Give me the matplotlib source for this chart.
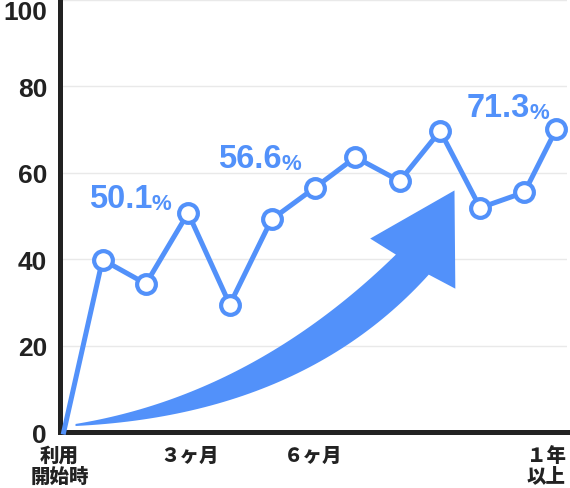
import matplotlib.pyplot as plt
from matplotlib.patches import Polygon
import numpy as np

# データ
months = [0, 0.92, 1.95, 2.95, 3.94, 4.93, 5.95, 6.92, 7.97, 8.93, 9.88, 10.93, 11.69]
values = [0, 39.9, 34.3, 50.7, 29.5, 49.2, 56.5, 63.6, 58.1, 69.7, 51.9, 55.5, 70.2]
tick_labels = ['利用\n開始時', '３ヶ月', '６ヶ月', '１年\n以上']
tick_pos = [-0.1, 2.98, 5.92, 11.45]
y_ticks = [0, 20, 40, 60, 80, 100]
callout_text = ['50.1', '56.6', '71.3']
callout_pos = [(0.59, 52.2), (3.65, 61.3), (9.55, 73.1)]

blue = '#5291fa'
dark = '#222222'


def bezier(p0, c, p2, n=60):
    t = np.linspace(0, 1, n)[:, None]
    return (1 - t) ** 2 * np.array(p0) + 2 * (1 - t) * t * np.array(c) + t ** 2 * np.array(p2)


def main():
    fig = plt.figure(figsize=(5.7, 4.89), dpi=100)
    ax = fig.add_axes([0.1044, 0.1145, 0.8904, 0.8834])
    ax.set_xlim(0, 11.94)
    ax.set_ylim(0, 100)

    # グリッド
    for y in y_ticks[1:]:
        ax.axhline(y, color='#e9e9e9', lw=1, zorder=0)

    # 矢印 (装飾)
    upper = bezier((0.28, 1.86), (4.47, 8.58), (7.88, 41.07))
    lower = bezier((0.28, 1.39), (5.65, 3.94), (8.66, 36.43))
    head = np.array([(7.27, 44.78), (9.27, 55.92), (9.29, 33.18)])
    shape = np.vstack([upper, head, lower[::-1]])
    ax.add_patch(Polygon(shape, closed=True, color=blue, lw=0, zorder=1))

    # 折れ線
    ax.plot(months, values, color=blue, lw=3.6, zorder=3, clip_on=False,
            solid_joinstyle='miter')
    ax.plot(months[1:], values[1:], 'o', ms=13.5, mfc='white', mec=blue, mew=3,
            zorder=4, clip_on=False)

    # 吹き出しの数値
    for txt, (x, y) in zip(callout_text, callout_pos):
        t = ax.text(x, y, txt, color=blue, fontsize=23.5, fontweight='bold',
                    family='Liberation Sans', ha='left', va='baseline')
        ax.annotate('%', xy=(1, 0), xycoords=t, color=blue, fontsize=16,
                    fontweight='bold', family='Liberation Sans', ha='left', va='bottom')

    # 軸
    for s in ['top', 'right']:
        ax.spines[s].set_visible(False)
    for s in ['left', 'bottom']:
        ax.spines[s].set_linewidth(3.6)
        ax.spines[s].set_color(dark)
        ax.spines[s].set_capstyle('projecting')

    ax.set_yticks(y_ticks)
    ax.set_yticklabels([str(v) for v in y_ticks], fontsize=19, fontweight='bold',
                       family='Liberation Sans', color=dark)
    ax.get_yticklabels()[-1].set_va('top')
    ax.tick_params(axis='y', length=0, pad=9)

    ax.set_xticks(tick_pos)
    ax.set_xticklabels(tick_labels, fontsize=14, fontweight=900,
                       family=['Noto Sans CJK JP', 'DejaVu Sans'], color=dark,
                       linespacing=1.1)
    ax.tick_params(axis='x', length=0, pad=10)

    fig.savefig('out.png', dpi=100)


main()
